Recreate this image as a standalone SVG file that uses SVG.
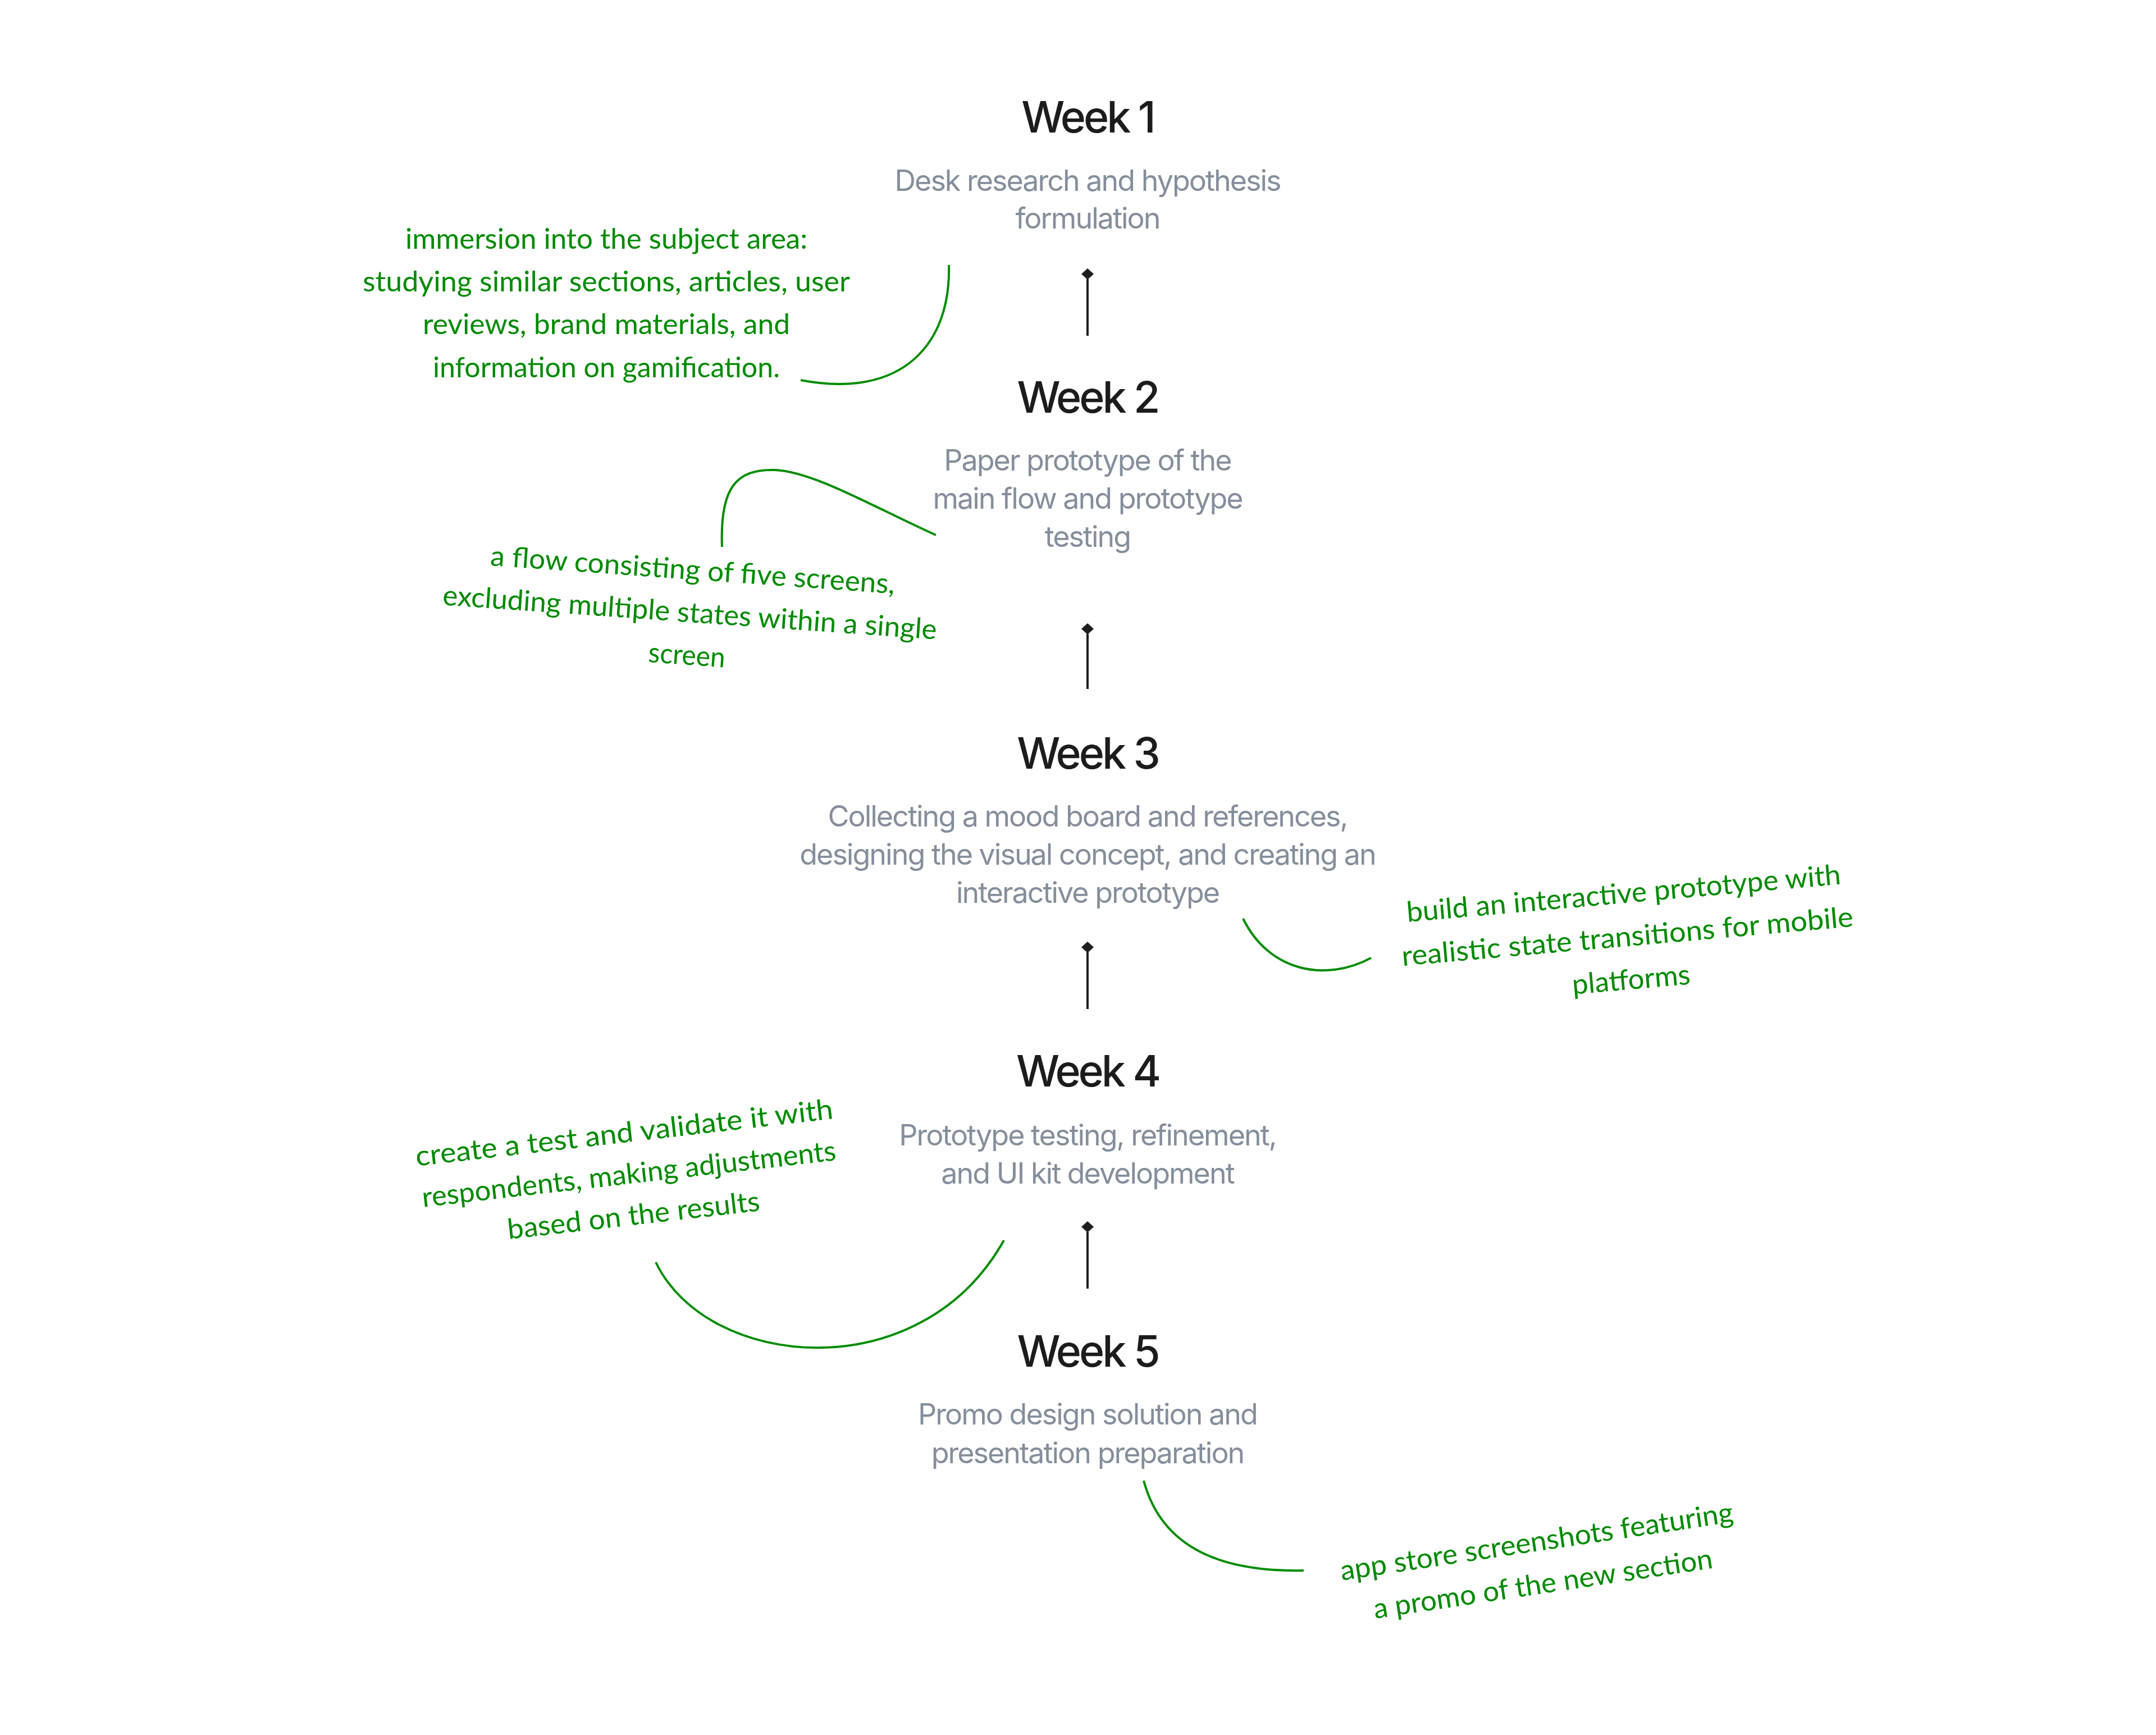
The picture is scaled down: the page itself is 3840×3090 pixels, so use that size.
<svg xmlns="http://www.w3.org/2000/svg" width="3840" height="3090" viewBox="0 0 3840 3090">
<style>
.title{font-family:Inter,"Liberation Sans",sans-serif;font-size:77px;font-weight:500;fill:#1c1c1c;text-anchor:middle;letter-spacing:-4px}
.desc{font-family:Inter,"Liberation Sans",sans-serif;font-size:52px;font-weight:400;fill:#858e9b;text-anchor:middle;letter-spacing:-2px}
.note{font-family:Lato,"DejaVu Sans Condensed","DejaVu Sans",sans-serif;font-size:50px;font-weight:400;fill:#008a00;text-anchor:middle}
.conn{stroke:#1e1e1e;stroke-width:4;fill:none}
.curve{stroke:#008c00;stroke-width:4;fill:none}
</style>
<defs>
<marker id="diamond" markerUnits="userSpaceOnUse" viewBox="0 -11 20 22" refX="1" refY="0" markerWidth="20" markerHeight="22" orient="auto">
<path d="M0,0 L10,-11 L20,0 L10,11 Z" fill="#1e1e1e"/>
</marker>
</defs>
<rect width="3840" height="3090" fill="#ffffff"/>

<g id="week1">
<text class="title" x="1937" y="236">Week 1</text>
<text class="desc" x="1937" y="340">Desk research and hypothesis</text>
<text class="desc" x="1937" y="407">formulation</text>
</g>
<g id="week2">
<text class="title" x="1937" y="735">Week 2</text>
<text class="desc" x="1937" y="838">Paper prototype of the</text>
<text class="desc" x="1937" y="906">main flow and prototype</text>
<text class="desc" x="1937" y="974">testing</text>
</g>
<g id="week3">
<text class="title" x="1937" y="1369">Week 3</text>
<text class="desc" x="1937" y="1472">Collecting a mood board and references,</text>
<text class="desc" x="1937" y="1540">designing the visual concept, and creating an</text>
<text class="desc" x="1937" y="1608">interactive prototype</text>
</g>
<g id="week4">
<text class="title" x="1937" y="1935">Week 4</text>
<text class="desc" x="1937" y="2040">Prototype testing, refinement,</text>
<text class="desc" x="1937" y="2108">and UI kit development</text>
</g>
<g id="week5">
<text class="title" x="1937" y="2434">Week 5</text>
<text class="desc" x="1937" y="2537">Promo design solution and</text>
<text class="desc" x="1937" y="2606">presentation preparation</text>
</g>

<g id="connectors">
<line class="conn" x1="1937" y1="598" x2="1937" y2="497" marker-end="url(#diamond)"/>
<line class="conn" x1="1937" y1="1227" x2="1937" y2="1129" marker-end="url(#diamond)"/>
<line class="conn" x1="1937" y1="1797" x2="1937" y2="1696" marker-end="url(#diamond)"/>
<line class="conn" x1="1937" y1="2295" x2="1937" y2="2194" marker-end="url(#diamond)"/>
</g>

<g id="note1">
<path class="curve" d="M1690,472 C1694,610 1610,712 1426,677"/>
<text class="note" x="1080" y="443" textLength="716" lengthAdjust="spacingAndGlyphs">immersion into the subject area:</text>
<text class="note" x="1080" y="519" textLength="868" lengthAdjust="spacingAndGlyphs">studying similar sections, articles, user</text>
<text class="note" x="1080" y="595" textLength="654" lengthAdjust="spacingAndGlyphs">reviews, brand materials, and</text>
<text class="note" x="1080" y="672" textLength="618" lengthAdjust="spacingAndGlyphs">information on gamification.</text>
</g>
<g id="note2">
<path class="curve" d="M1286,974 C1282,870 1310,835 1380,837 C1450,840 1560,905 1667,953"/>
<g transform="rotate(4 1228 1100)">
<text class="note" x="1228" y="1032" textLength="722" lengthAdjust="spacingAndGlyphs">a flow consisting of five screens,</text>
<text class="note" x="1228" y="1108" textLength="882" lengthAdjust="spacingAndGlyphs">excluding multiple states within a single</text>
<text class="note" x="1228" y="1184" textLength="137" lengthAdjust="spacingAndGlyphs">screen</text>
</g>
</g>
<g id="note3">
<path class="curve" d="M2214,1636 C2260,1730 2360,1750 2442,1706"/>
<g transform="rotate(-5 2900 1685)">
<text class="note" x="2900" y="1608" textLength="776" lengthAdjust="spacingAndGlyphs">build an interactive prototype with</text>
<text class="note" x="2900" y="1685" textLength="807" lengthAdjust="spacingAndGlyphs">realistic state transitions for mobile</text>
<text class="note" x="2900" y="1762" textLength="211" lengthAdjust="spacingAndGlyphs">platforms</text>
</g>
</g>
<g id="note4">
<path class="curve" d="M1168,2248 C1260,2440 1640,2475 1788,2209"/>
<g transform="rotate(-6.5 1122 2108)">
<text class="note" x="1122" y="2034" textLength="748" lengthAdjust="spacingAndGlyphs">create a test and validate it with</text>
<text class="note" x="1122" y="2108" textLength="742" lengthAdjust="spacingAndGlyphs">respondents, making adjustments</text>
<text class="note" x="1122" y="2182" textLength="452" lengthAdjust="spacingAndGlyphs">based on the results</text>
</g>
</g>
<g id="note5">
<path class="curve" d="M2037,2637 C2070,2760 2180,2800 2322,2797"/>
<g transform="rotate(-8.5 2745 2800)">
<text class="note" x="2745" y="2762" textLength="707" lengthAdjust="spacingAndGlyphs">app store screenshots featuring</text>
<text class="note" x="2745" y="2838" textLength="610" lengthAdjust="spacingAndGlyphs">a promo of the new section</text>
</g>
</g>
</svg>
